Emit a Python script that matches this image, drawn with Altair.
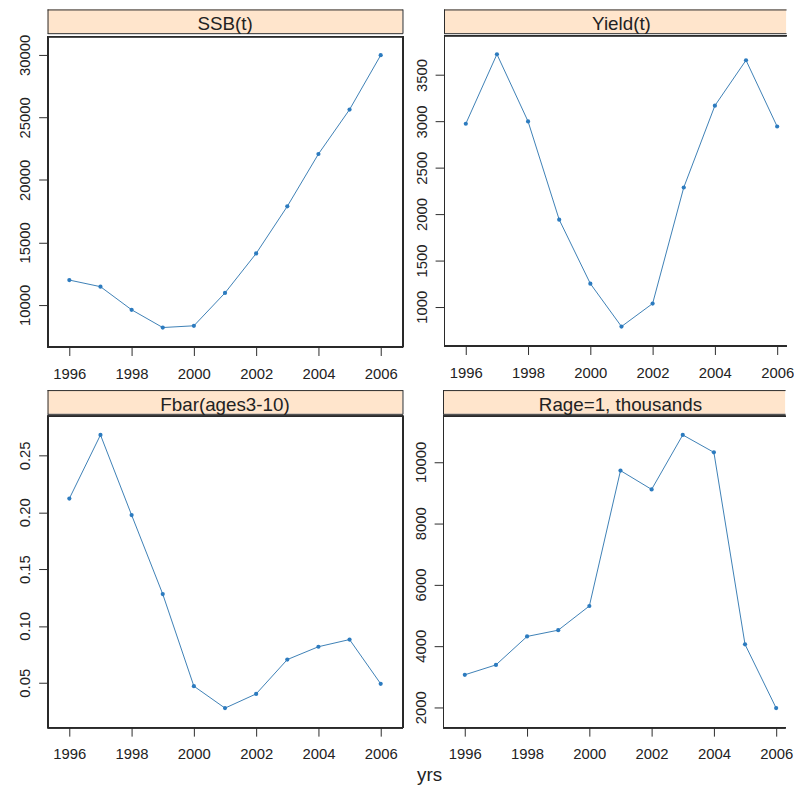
import altair as alt
import pandas as pd

years = list(range(1996, 2007))
ssb = [11980, 11450, 9600, 8180, 8320, 10950, 14110, 17880, 22070, 25630, 29980]
yld = [2975, 3725, 3000, 1940, 1250, 787, 1035, 2287, 3170, 3660, 2945]
fbar = [0.212, 0.268, 0.1975, 0.128, 0.047, 0.0277, 0.0402, 0.0704, 0.0817, 0.088, 0.0491]
rage = [3055, 3378, 4307, 4511, 5300, 9719, 9105, 10883, 10314, 4048, 1968]

titles = ["SSB(t)", "Yield(t)", "Fbar(ages3-10)", "Rage=1, thousands"]
yticks = [
    [10000, 15000, 20000, 25000, 30000],
    [1000, 1500, 2000, 2500, 3000, 3500],
    [0.05, 0.10, 0.15, 0.20, 0.25],
    [2000, 4000, 6000, 8000, 10000],
]
yfmts = ["d", "d", ".2f", "d"]
xticks = [1996, 1998, 2000, 2002, 2004, 2006]

FONT = "Liberation Sans"
TXT = "#222222"
FRAME = "#2a2a2a"
LINE = "#3d7fb5"
PT = "#2c7bbf"
STRIP = "#ffe5cc"
W, SH = 359, 24
W_RIGHT = 346  # right column is cut by the page edge
HEIGHTS = [314, 314, 315, 315]


def rule(df, **enc):
    return alt.Chart(df).mark_rule(color=FRAME, strokeWidth=1).encode(**enc)


def box(df, width, height, right):
    parts = [
        rule(df, x=alt.value(0.5), y=alt.value(0), y2=alt.value(height + 0.5)),
        rule(df, x=alt.value(0), x2=alt.value(width + 0.5), y=alt.value(height + 0.5)),
        rule(df, x=alt.value(0), x2=alt.value(width + 0.5), y=alt.value(0.5)),
    ]
    if right:
        parts.append(rule(df, x=alt.value(width + 0.5), y=alt.value(0),
                          y2=alt.value(height + 0.5)))
    return parts


def panel(title, vals, ticks, fmt, width, height):
    df = pd.DataFrame({"yr": years, "v": vals})
    lo, hi = min(vals), max(vals)
    pad = 0.07 * (hi - lo)
    x0 = years[0] - 0.07 * (years[-1] - years[0])
    x1 = years[-1] + 0.07 * (years[-1] - years[0])
    x1 = x0 + (x1 - x0) * width / W
    x = alt.X(
        "yr:Q",
        scale=alt.Scale(domain=[x0, x1], nice=False, zero=False),
        axis=alt.Axis(values=xticks, format="d", title=None, grid=False, domain=False,
                      tickSize=9, tickColor=FRAME, labelFontSize=15, labelPadding=11,
                      labelColor=TXT, labelFont=FONT, labelFlush=False, labelOverlap=False),
    )
    y = alt.Y(
        "v:Q",
        scale=alt.Scale(domain=[lo - pad, hi + pad], nice=False, zero=False),
        axis=alt.Axis(values=ticks, format=fmt, title=None, grid=False, domain=False,
                      tickSize=9, tickColor=FRAME, labelFontSize=15, labelPadding=6,
                      labelColor=TXT, labelFont=FONT, labelAngle=270, labelAlign="center",
                      labelBaseline="bottom", labelFlush=False, labelOverlap=False),
    )
    base = alt.Chart(df).encode(x=x, y=y)
    plot = alt.layer(
        *box(df, width, height, width == W),
        base.mark_line(color=LINE, strokeWidth=1),
        base.mark_point(filled=True, color=PT, size=18, opacity=1),
    ).properties(width=width, height=height,
                 view=alt.ViewBackground(stroke=None, fill="white"))
    sdf = pd.DataFrame({"t": [title]})
    strip = alt.layer(
        alt.Chart(sdf).mark_rect(fill=STRIP, strokeWidth=0).encode(
            x=alt.value(0), x2=alt.value(width), y=alt.value(0), y2=alt.value(SH)),
        *box(sdf, width, SH, width == W),
        alt.Chart(sdf).mark_text(
            font=FONT, fontSize=19, color=TXT, baseline="alphabetic", align="center"
        ).encode(text="t:N", x=alt.value(W / 2), y=alt.value(21)),
    ).properties(width=width, height=SH, view=alt.ViewBackground(stroke=None))
    return alt.vconcat(strip, plot, spacing=0)


data = [ssb, yld, fbar, rage]
panels = [panel(titles[i], data[i], yticks[i], yfmts[i],
                W if i % 2 == 0 else W_RIGHT, HEIGHTS[i])
          for i in range(4)]
row1 = alt.hconcat(panels[0], panels[1], spacing=10)
row2 = alt.hconcat(panels[2], panels[3], spacing=10)
chart = alt.vconcat(row1, row2, spacing=8).properties(
    title=alt.TitleParams("yrs", orient="bottom", anchor="middle", fontSize=19,
                          fontWeight="normal", font=FONT, color=TXT, offset=4, dx=24),
    padding={"left": 9, "top": -4, "right": 0, "bottom": 0},
).configure(background="white")

chart.save("out.html", embed_options={"renderer": "svg", "actions": False})
